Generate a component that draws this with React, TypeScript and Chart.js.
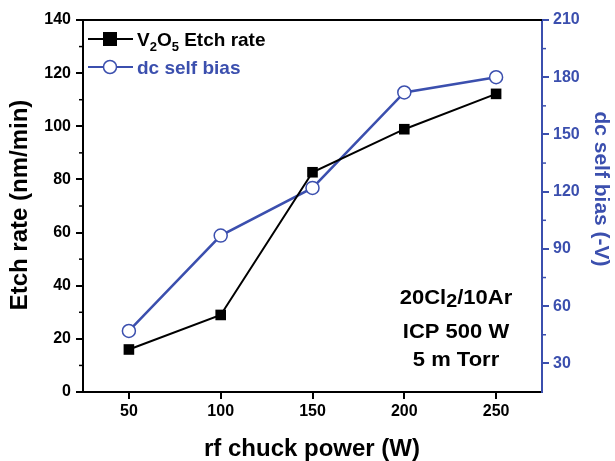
import React, { useEffect, useRef } from "react";
import { Chart, registerables } from "chart.js";

Chart.register(...registerables);

const powers = [50, 100, 150, 200, 250];
const etchRate = [16, 29, 82.7, 98.9, 112.2];
const selfBias = [47, 97, 122, 172, 180];
const xTicks = [50, 100, 150, 200, 250];
const rightTicks = [30, 60, 90, 120, 150, 180, 210];

const BLUE = "#3b4fae";
const FONT = "'Liberation Sans', Arial, sans-serif";

const decorPlugin = {
  id: "decor",
  afterDraw(chart: any) {
    const ctx = chart.ctx as CanvasRenderingContext2D;
    const { left, right, top } = chart.chartArea;
    const yL = chart.scales.y;
    const yR = chart.scales.y1;
    ctx.save();
    // top border
    ctx.strokeStyle = "#000";
    ctx.lineWidth = 2;
    ctx.beginPath();
    ctx.moveTo(left - 1, top);
    ctx.lineTo(right, top);
    ctx.stroke();
    // minor ticks left
    ctx.lineWidth = 1.5;
    for (let v = 10; v < 140; v += 20) {
      const p = yL.getPixelForValue(v);
      ctx.beginPath();
      ctx.moveTo(left, p);
      ctx.lineTo(left - 4, p);
      ctx.stroke();
    }
    // minor ticks right
    ctx.strokeStyle = BLUE;
    for (let v = 45; v < 210; v += 30) {
      const p = yR.getPixelForValue(v);
      ctx.beginPath();
      ctx.moveTo(right, p);
      ctx.lineTo(right + 4, p);
      ctx.stroke();
    }
    // titles
    ctx.fillStyle = "#000";
    ctx.font = `bold 24px ${FONT}`;
    ctx.textAlign = "center";
    ctx.textBaseline = "middle";
    ctx.save();
    ctx.translate(20, 205);
    ctx.rotate(-Math.PI / 2);
    ctx.fillText("Etch rate (nm/min)", 0, 0);
    ctx.restore();
    ctx.save();
    ctx.font = `bold 21px ${FONT}`;
    ctx.fillStyle = BLUE;
    ctx.translate(601, 189);
    ctx.rotate(Math.PI / 2);
    ctx.fillText("dc self bias (-V)", 0, 0);
    ctx.restore();
    ctx.textBaseline = "alphabetic";
    ctx.fillText("rf chuck power (W)", 312, 456);

    // legend
    const lx1 = 88, lx2 = 133, lmid = 110;
    const r1 = 39, r2 = 67;
    ctx.lineWidth = 2;
    ctx.strokeStyle = "#000";
    ctx.beginPath();
    ctx.moveTo(lx1, r1);
    ctx.lineTo(lx2, r1);
    ctx.stroke();
    ctx.fillStyle = "#000";
    ctx.fillRect(lmid - 7, r1 - 7, 14, 14);
    ctx.strokeStyle = BLUE;
    ctx.lineWidth = 2;
    ctx.beginPath();
    ctx.moveTo(lx1, r2);
    ctx.lineTo(lx2, r2);
    ctx.stroke();
    ctx.beginPath();
    ctx.arc(lmid, r2, 6.5, 0, Math.PI * 2);
    ctx.fillStyle = "#fff";
    ctx.fill();
    ctx.lineWidth = 1.5;
    ctx.stroke();

    ctx.textAlign = "left";
    const big = `bold 19px ${FONT}`;
    const small = `bold 13px ${FONT}`;
    let x = 137;
    const base1 = r1 + 7;
    const parts: [string, boolean][] = [["V", false], ["2", true], ["O", false], ["5", true], [" Etch rate", false]];
    ctx.fillStyle = "#000";
    for (const [t, sub] of parts) {
      ctx.font = sub ? small : big;
      ctx.fillText(t, x, sub ? base1 + 5 : base1);
      x += ctx.measureText(t).width;
    }
    ctx.font = big;
    ctx.fillStyle = BLUE;
    ctx.fillText("dc self bias", 137, r2 + 7);

    // annotation
    ctx.fillStyle = "#000";
    const ann = `bold 20px ${FONT}`;
    const annSmall = `bold 18px ${FONT}`;
    const sx = 1.1;
    const cx = 456;
    ctx.save();
    ctx.translate(cx, 0);
    ctx.scale(sx, 1);
    const a1 = "20Cl";
    const a2 = "2";
    const a3 = "/10Ar";
    ctx.font = ann;
    const w1 = ctx.measureText(a1).width;
    const w3 = ctx.measureText(a3).width;
    ctx.font = annSmall;
    const w2 = ctx.measureText(a2).width;
    let ax = -(w1 + w2 + w3) / 2;
    const b1 = 304;
    ctx.textAlign = "left";
    ctx.font = ann;
    ctx.fillText(a1, ax, b1);
    ax += w1;
    ctx.font = annSmall;
    ctx.fillText(a2, ax, b1 + 3);
    ax += w2;
    ctx.font = ann;
    ctx.fillText(a3, ax, b1);
    ctx.textAlign = "center";
    ctx.fillText("ICP 500 W", 0, 338);
    ctx.fillText("5 m Torr", 0, 366);
    ctx.restore();
    ctx.restore();
  },
};

export default function App() {
  const ref = useRef<HTMLCanvasElement | null>(null);
  useEffect(() => {
    if (!ref.current) return;
    Chart.defaults.font.family = FONT;
    const chart = new Chart(ref.current, {
      type: "line",
      data: {
        datasets: [
          {
            label: "V2O5 Etch rate",
            data: powers.map((p, i) => ({ x: p, y: etchRate[i] })),
            yAxisID: "y",
            borderColor: "#000",
            backgroundColor: "#000",
            borderWidth: 2,
            pointStyle: "rect",
            pointRadius: 7.5,
            pointBorderWidth: 0,
            pointBackgroundColor: "#000",
            tension: 0,
          },
          {
            label: "dc self bias",
            data: powers.map((p, i) => ({ x: p, y: selfBias[i] })),
            yAxisID: "y1",
            borderColor: BLUE,
            backgroundColor: "#fff",
            borderWidth: 2.5,
            pointStyle: "circle",
            pointRadius: 6.5,
            pointBorderWidth: 1.5,
            pointBorderColor: BLUE,
            pointBackgroundColor: "#fff",
            tension: 0,
          },
        ],
      },
      options: {
        responsive: false,
        animation: false,
        layout: { padding: { top: 20, left: 0, right: 0, bottom: 0 } },
        plugins: { legend: { display: false }, tooltip: { enabled: false } },
        scales: {
          x: {
            type: "linear",
            min: 25,
            max: 275,
            afterBuildTicks: (s: any) => {
              s.ticks = xTicks.map((v) => ({ value: v }));
            },
            afterFit: (s: any) => {
              s.height = 69;
            },
            grid: { drawOnChartArea: false, drawTicks: true, tickLength: 7, color: "#000", lineWidth: 2 },
            border: { color: "#000", width: 2 },
            ticks: { color: "#000", font: { size: 16, weight: "bold" }, padding: 3, maxRotation: 0 },
          },
          y: {
            type: "linear",
            position: "left",
            min: 0,
            max: 140,
            ticks: { stepSize: 20, color: "#000", font: { size: 16, weight: "bold" }, padding: 5 },
            afterFit: (s: any) => {
              s.width = 83;
            },
            grid: { drawOnChartArea: false, drawTicks: true, tickLength: 7, color: "#000", lineWidth: 2 },
            border: { color: "#000", width: 2 },
          },
          y1: {
            type: "linear",
            position: "right",
            min: 15,
            max: 210,
            afterBuildTicks: (s: any) => {
              s.ticks = rightTicks.map((v) => ({ value: v }));
            },
            afterFit: (s: any) => {
              s.width = 73;
            },
            ticks: { color: BLUE, font: { size: 16, weight: "bold" }, padding: 4 },
            grid: { drawOnChartArea: false, drawTicks: true, tickLength: 7, color: BLUE, lineWidth: 2 },
            border: { color: BLUE, width: 2 },
          },
        },
      },
      plugins: [decorPlugin],
    } as any);
    return () => chart.destroy();
  }, []);
  return (
    <div style={{ position: "absolute", left: 0, top: 0, width: 615, height: 461 }}>
      <canvas ref={ref} width={615} height={461} style={{ width: 615, height: 461 }} />
    </div>
  );
}
